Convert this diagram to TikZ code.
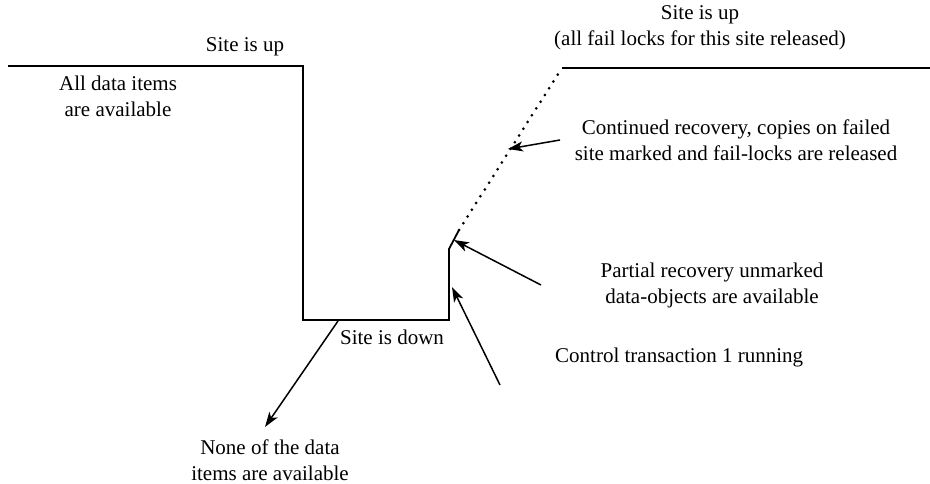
\documentclass[tikz,border=0pt]{standalone}
\usepackage{fontspec}
\setmainfont{Liberation Serif}
\usetikzlibrary{arrows.meta}
\begin{document}
\begin{tikzpicture}[x=1pt,y=-1pt,
  lbl/.style={font=\fontsize{21}{26}\selectfont, align=center, inner sep=0pt},
  curve/.style={line width=1.8pt},
  pointer/.style={line width=1.5pt, -{Stealth[length=15pt,width=10pt,inset=4pt]}}]
\useasboundingbox (0,0) rectangle (930,484);

% availability profile of the site
\coordinate (p0) at (8,66);
\coordinate (p1) at (303,66);
\coordinate (p2) at (303,320);
\coordinate (p3) at (449,320);
\coordinate (p4) at (449,249);
\coordinate (p5) at (459,230);
\coordinate (p6) at (562,68);
\coordinate (p7) at (930,68);
\draw[curve, line join=miter] (p0) -- (p1) -- (p2) -- (p3) -- (p4) -- (p5);
\draw[line width=3pt, dash pattern=on 0pt off 8pt, line cap=round] (p5) -- (p6);
\draw[curve] (p6) -- (p7);

% labels
\node[lbl] (up1) at (245,47) {Site is up};
\node[lbl] (all) at (118,96) {All data items\\are available};
\node[lbl] (up2) at (700,28) {Site is up\\(all fail locks for this site released)};
\node[lbl] (cont) at (736,140) {Continued recovery, copies on failed\\site marked and fail-locks are released};
\node[lbl] (part) at (712,285) {Partial recovery unmarked\\data-objects are available};
\node[lbl, anchor=west] (ctrl) at (555,357) {Control transaction 1 running};
\node[lbl] (down) at (392,337) {Site is down};
\node[lbl] (none) at (270,460) {None of the data\\items are available};

% pointers
\coordinate (c1s) at (560,140);
\coordinate (c1e) at (508,149);
\coordinate (c2s) at (541,285);
\coordinate (c2e) at (454,240);
\coordinate (c3s) at (500,385);
\coordinate (c3e) at (452,287);
\coordinate (c4s) at (338,321);
\coordinate (c4e) at (265,427);
\draw[pointer] (c1s) -- (c1e);
\draw[pointer] (c2s) -- (c2e);
\draw[pointer] (c3s) -- (c3e);
\draw[pointer] (c4s) -- (c4e);
\end{tikzpicture}
\end{document}
